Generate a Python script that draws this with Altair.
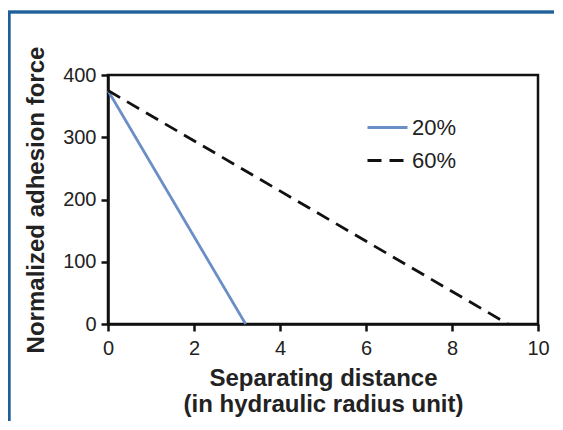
import altair as alt
import pandas as pd

series = ["20%", "20%", "60%", "60%"]
distance = [0.0, 3.2, 0.0, 9.3]
force = [375, 0, 375, 0]

df = pd.DataFrame({"series": series, "distance": distance, "force": force})

lines = alt.Chart(df).mark_line(strokeWidth=2.8, clip=False).encode(
    x=alt.X("distance:Q", scale=alt.Scale(domain=[0, 10], nice=False),
            axis=alt.Axis(values=[0, 2, 4, 6, 8, 10], labelFlush=False, labelPadding=7, titlePadding=8,
                          title=["Separating distance", "(in hydraulic radius unit)"])),
    y=alt.Y("force:Q", scale=alt.Scale(domain=[0, 400], nice=False),
            axis=alt.Axis(values=[0, 100, 200, 300, 400], titlePadding=14,
                          title="Normalized adhesion force")),
    color=alt.Color("series:N", scale=alt.Scale(domain=["20%", "60%"], range=["#6a8ec6", "#111111"]),
                    legend=alt.Legend(title=None, orient="none", legendX=258, legendY=31,
                                      symbolType="stroke", symbolSize=1600, symbolStrokeWidth=3,
                                      labelFontSize=22, labelColor="#222", labelFont="Liberation Sans",
                                      rowPadding=-1, labelOffset=3)),
    strokeDash=alt.StrokeDash("series:N", scale=alt.Scale(domain=["20%", "60%"], range=[[1, 0], [14, 8]]),
                              legend=None),
    detail="series:N",
)

frame = alt.Chart(df).mark_rect(fill="transparent", stroke="#1f5f9a", strokeWidth=2.5, clip=False).encode(
    x=alt.value(-99), x2=alt.value(600), y=alt.value(-63), y2=alt.value(500)
)

chart = alt.layer(lines, frame).properties(
    width=430, height=249,
    autosize=alt.AutoSizeParams(type="none"),
    padding={"left": 100, "top": 67, "right": 16, "bottom": 97},
    background="white",
).configure_view(stroke="#111", strokeWidth=2.5).configure_axis(
    domainColor="#111", domainWidth=2.5, tickColor="#111", tickWidth=2.5, tickSize=7,
    labelFontSize=20, labelColor="#222", labelFont="Liberation Sans", labelPadding=5,
    titleFontSize=24, titleColor="#222", titleFont="Liberation Sans", titleFontWeight="bold",
    grid=False,
).configure_axisX(titleLineHeight=26)

chart.save("out.html", embed_options={"renderer": "svg", "actions": False})
